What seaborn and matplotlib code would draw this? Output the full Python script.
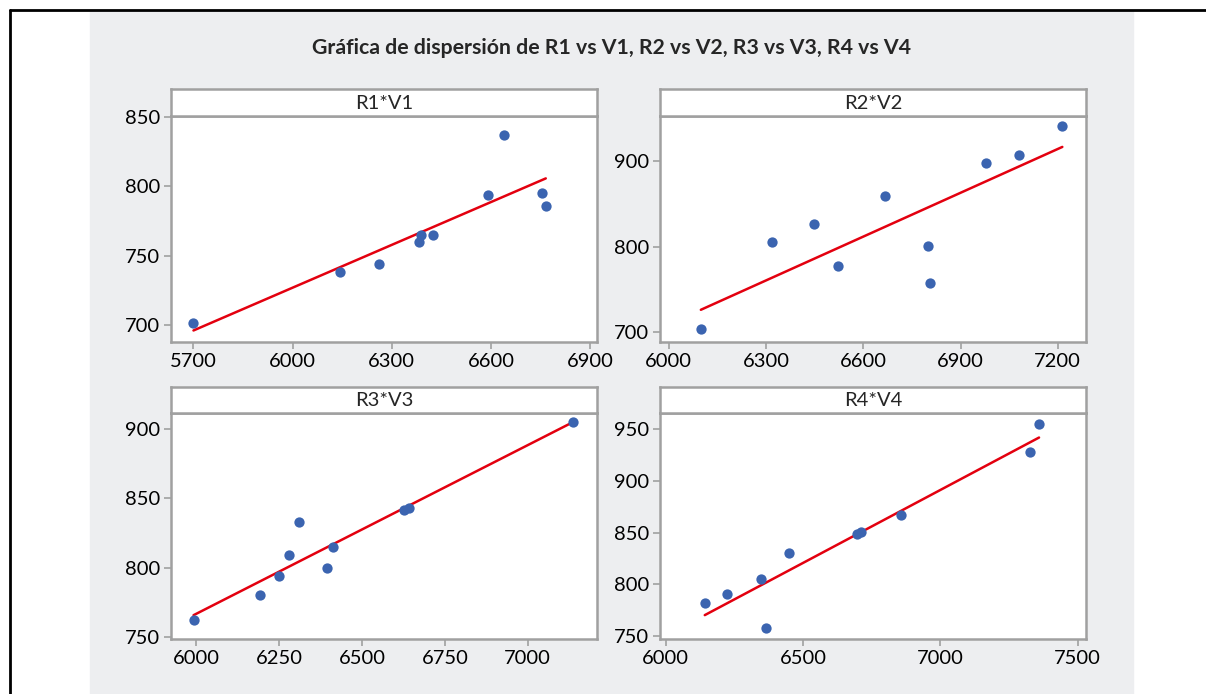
import numpy as np
import pandas as pd
import seaborn as sns
import matplotlib.pyplot as plt
from matplotlib.patches import Rectangle
from matplotlib.lines import Line2D

# data
v1 = [5700, 6144, 6261, 6381, 6388, 6424, 6591, 6640, 6756, 6766]
r1 = [701, 738, 744, 760, 765, 765, 794, 837, 795, 786]
v2 = [6099, 6319, 6448, 6521, 6667, 6800, 6806, 6979, 7081, 7214]
r2 = [704, 805, 827, 777, 859, 801, 758, 898, 907, 941]
v3 = [5992, 6193, 6249, 6281, 6310, 6396, 6412, 6626, 6641, 7136]
r3 = [762, 780, 794, 809, 833, 800, 815, 842, 843, 905]
v4 = [6142, 6223, 6348, 6365, 6447, 6696, 6710, 6857, 7326, 7359]
r4 = [782, 791, 805, 758, 830, 849, 851, 867, 928, 955]

panel_names = ['R1*V1', 'R2*V2', 'R3*V3', 'R4*V4']
xticks_list = [[5700, 6000, 6300, 6600, 6900],
               [6000, 6300, 6600, 6900, 7200],
               [6000, 6250, 6500, 6750, 7000],
               [6000, 6500, 7000, 7500]]
yticks_list = [[700, 750, 800, 850],
               [700, 800, 900],
               [750, 800, 850, 900],
               [750, 800, 850, 900, 950]]
xlims = [(5632, 6921), (5973, 7287), (5924, 7209), (5979, 7530)]
ylims = [(688, 851), (689.5, 953), (748.6, 912), (747.4, 966)]

title = 'Gráfica de dispersión de R1 vs V1, R2 vs V2, R3 vs V3, R4 vs V4'

df = pd.DataFrame({'V': v1 + v2 + v3 + v4, 'R': r1 + r2 + r3 + r4,
                   'panel': sum([[p] * 10 for p in panel_names], [])})

sns.set_style('white')
plt.rcParams['font.family'] = ['Lato', 'DejaVu Sans']

W, H = 1206, 694
fig = plt.figure(figsize=(W / 100, H / 100), dpi=100)

# grey backdrop and black frame lines
fig.patches.append(Rectangle((90 / W, 0), (1133 - 90) / W, (H - 10) / H,
                             transform=fig.transFigure, color='#EDEEF0', zorder=-10))
fig.lines.append(Line2D([9.5 / W, 1], [1 - 9.5 / H, 1 - 9.5 / H], transform=fig.transFigure,
                        color='black', lw=2))
fig.lines.append(Line2D([9.5 / W, 9.5 / W], [0, 1 - 9.5 / H], transform=fig.transFigure,
                        color='black', lw=2))

fig.text(612 / W, 1 - 48 / H, title, ha='center', va='center',
         fontsize=15.3, fontweight='bold')

frame_col = '#A0A0A0'
# pixel boxes: left, right, strip top, data top, data bottom
boxes = [(171, 597, 89, 115.5, 341.5),
         (660, 1086, 89, 115.5, 341.5),
         (171, 597, 386.5, 412.5, 639),
         (660, 1086, 386.5, 412.5, 639)]

for i, name in enumerate(panel_names):
    l, r, st, dt, db = boxes[i]
    ax = fig.add_axes([l / W, 1 - db / H, (r - l) / W, (db - dt) / H])
    sub = df[df['panel'] == name]
    sns.regplot(data=sub, x='V', y='R', ax=ax, ci=None,
                scatter_kws={'s': 55, 'color': '#3B64B0', 'alpha': 1,
                             'linewidths': 0, 'zorder': 3},
                line_kws={'color': '#E3000F', 'lw': 1.8, 'zorder': 2})
    ax.set_xlim(xlims[i])
    ax.set_ylim(ylims[i])
    ax.set_xticks(xticks_list[i])
    ax.set_yticks(yticks_list[i])
    ax.set_xlabel('')
    ax.set_ylabel('')
    ax.set_facecolor('white')
    for s in ax.spines.values():
        s.set_color(frame_col)
        s.set_linewidth(1.8)
    ax.tick_params(axis='both', direction='out', length=5, width=1.2, color=frame_col,
                   labelsize=14.5, labelcolor='black', pad=3, left=True, bottom=True)

    # strip header
    sax = fig.add_axes([l / W, 1 - dt / H, (r - l) / W, (dt - st) / H])
    sax.set_facecolor('white')
    sax.set_xticks([])
    sax.set_yticks([])
    for s in sax.spines.values():
        s.set_color(frame_col)
        s.set_linewidth(1.8)
    sax.text(0.5, 0.45, name, ha='center', va='center', fontsize=14.5,
             transform=sax.transAxes)

fig.savefig('out.png', dpi=100)
